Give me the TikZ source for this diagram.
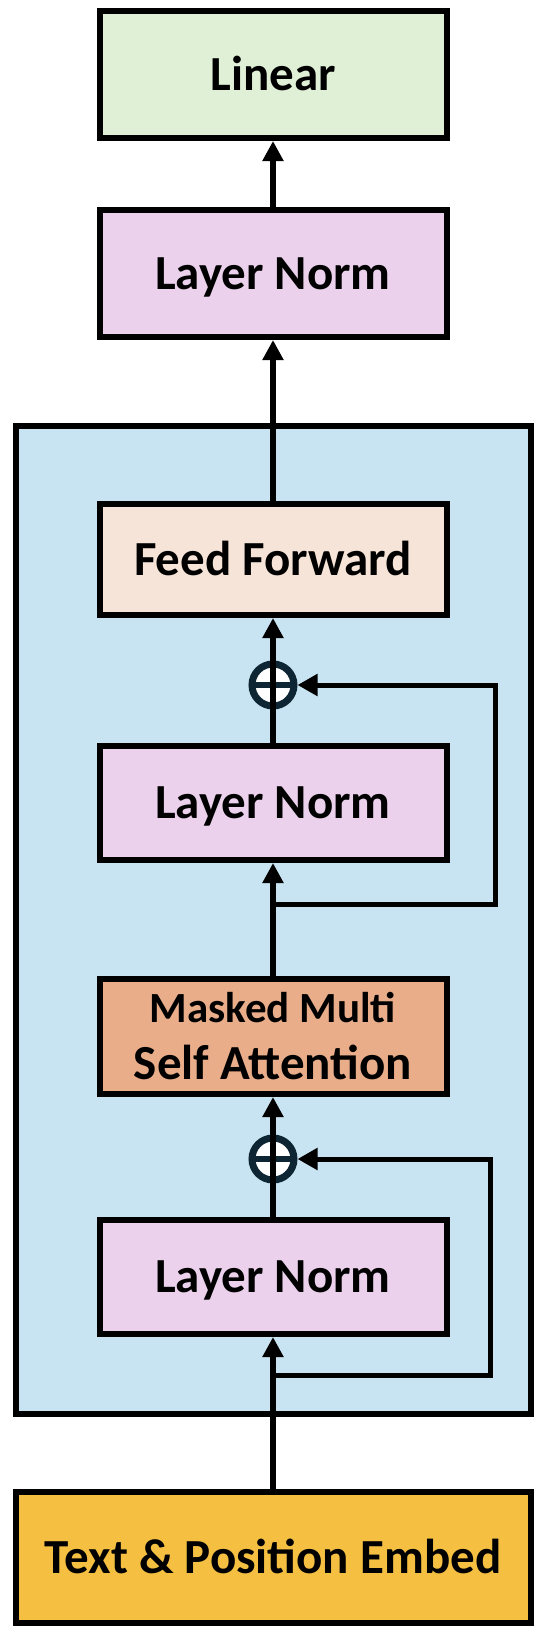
\documentclass[tikz,border=0pt]{standalone}
\usepackage{fontspec}
\setmainfont{Carlito}
\usetikzlibrary{arrows.meta}
\definecolor{linc}{HTML}{E0F0D6}
\definecolor{lnc}{HTML}{EBD1EC}
\definecolor{bigc}{HTML}{C8E3F1}
\definecolor{ffc}{HTML}{F7E4D8}
\definecolor{msac}{HTML}{E9AD8A}
\definecolor{embc}{HTML}{F5C042}
\definecolor{ringc}{HTML}{0E2633}
\begin{document}
\begin{tikzpicture}[x=1pt,y=-1pt,
  box/.style={draw=black, line width=6pt, rectangle, minimum width=347pt,
    inner sep=0pt, font=\fontsize{49}{57}\selectfont\bfseries,
    text height=31pt, text depth=0pt},
  wide/.style={box, minimum width=515pt},
  msabox/.style={draw=black, line width=6pt, rectangle, minimum width=347pt,
    inner sep=0pt, align=center, font=\fontsize{49}{57}\selectfont\bfseries},
  addc/.style={circle, draw=ringc, fill=white, line width=7pt, minimum size=42pt,
    inner sep=0pt,
    path picture={\draw[ringc, line width=6pt]
      (path picture bounding box.west) -- (path picture bounding box.east);}},
  arr/.style={draw=black, line width=5.5pt,
    -{Triangle[length=20pt,width=20pt]}},
  skiparr/.style={draw=black, line width=5pt,
    -{Triangle[length=20pt,width=21pt]}}]
\useasboundingbox (0,0) rectangle (544,1636);
% background block
\node[draw=black, line width=6pt, fill=bigc, rectangle, minimum width=515pt,
  minimum height=988pt, inner sep=0pt] (big) at (273,920) {};
% boxes
\node[box, fill=linc, minimum height=127pt] (lin) at (273,74.5) {Linear};
\node[box, fill=lnc, minimum height=127pt] (ln1) at (273,273.5) {Layer Norm};
\node[box, fill=ffc, minimum height=111pt] (ff) at (273,559.5) {Feed Forward};
\node[addc] (add1) at (273,685) {};
\node[box, fill=lnc, minimum height=114pt] (ln2) at (273,803) {Layer Norm};
\node[msabox, fill=msac, minimum height=115pt] (msa) at (273,1036.5)
  {{\fontsize{43}{57}\selectfont Masked Multi}\\Self Attention};
\node[addc] (add2) at (273,1159) {};
\node[box, fill=lnc, minimum height=114pt] (ln3) at (273,1277) {Layer Norm};
\node[wide, fill=embc, minimum height=131pt] (emb) at (273,1557.5) {Text \& Position Embed};
% branch points of the residual paths
\coordinate (s1) at (273,904);
\coordinate (s2) at (273,1375);
% connectors
\draw[arr] (ln1) -- (lin);
\draw[arr] (ff) -- (ln1);
\draw[arr] (ln2.north) -- (add1.center) -- (ff.south);
\draw[arr] (msa) -- (ln2);
\draw[arr] (ln3.north) -- (add2.center) -- (msa.south);
\draw[arr] (emb) -- (ln3);
\draw[skiparr] (s1) -- ++(222,0) |- (add1.east);
\draw[skiparr] (s2) -- ++(217,0) |- (add2.east);
\end{tikzpicture}
\end{document}
